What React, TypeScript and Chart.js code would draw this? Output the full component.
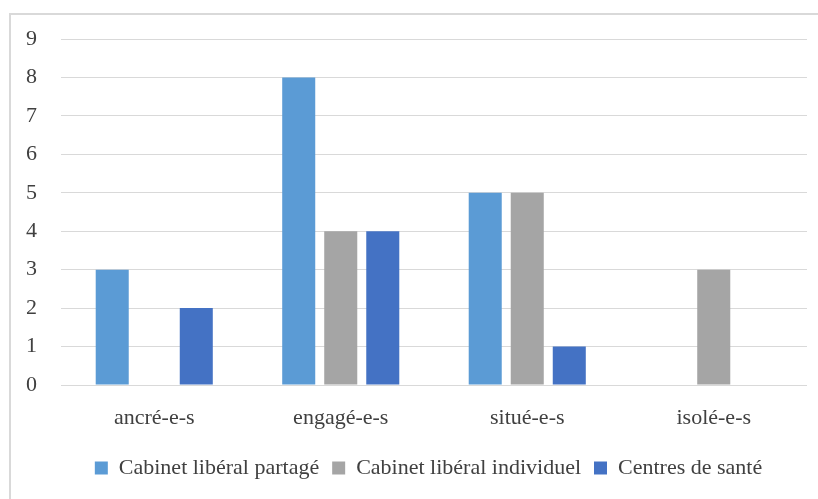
import React, { useEffect, useRef } from "react";
import { Chart, registerables } from "chart.js";

Chart.register(...registerables);

const categories = ["ancré-e-s", "engagé-e-s", "situé-e-s", "isolé-e-s"];
const seriesNames = ["Cabinet libéral partagé", "Cabinet libéral individuel", "Centres de santé"];
const cabinetPartage = [3, 8, 5, 0];
const cabinetIndividuel = [0, 4, 5, 3];
const centresSante = [2, 4, 1, 0];
const seriesColors = ["#5B9BD5", "#A5A5A5", "#4472C4"];
const yMin = 0;
const yMax = 9;

const FONT = "'Times New Roman', 'Liberation Serif', 'DejaVu Serif', serif";
const FONT_SIZE = 22;
const LEGEND_SHIFT = 25;

const legendShift = {
  id: "legendShift",
  afterLayout(chart: any) {
    if (chart.legend) {
      chart.legend.left += LEGEND_SHIFT;
      chart.legend.right += LEGEND_SHIFT;
    }
  },
};

export default function App() {
  const ref = useRef<HTMLCanvasElement | null>(null);

  useEffect(() => {
    if (!ref.current) return;
    const values = [cabinetPartage, cabinetIndividuel, centresSante];
    const chart = new Chart(ref.current, {
      type: "bar",
      data: {
        labels: categories,
        datasets: seriesNames.map((name, i) => ({
          label: name,
          data: values[i],
          backgroundColor: seriesColors[i],
          borderWidth: 0,
          categoryPercentage: 0.676,
          barPercentage: 0.786,
        })),
      },
      plugins: [legendShift],
      options: {
        responsive: false,
        animation: false,
        layout: { padding: { left: 0, right: 11, top: 39, bottom: 10 } },
        plugins: {
          tooltip: { enabled: false },
          legend: {
            position: "bottom",
            labels: {
              boxWidth: 13,
              boxHeight: 13,
              padding: 13,
              color: "#404040",
              font: { family: FONT, size: FONT_SIZE },
            },
          },
        },
        scales: {
          x: {
            grid: { display: false, drawTicks: false },
            border: { display: false },
            ticks: {
              color: "#404040",
              font: { family: FONT, size: FONT_SIZE },
              padding: 20,
            },
            afterFit: (scale: any) => {
              scale.height = 59;
            },
          },
          y: {
            min: yMin,
            max: yMax,
            grid: { color: "#D9D9D9", lineWidth: 1, drawTicks: false },
            border: { display: false },
            ticks: {
              stepSize: 1,
              color: "#404040",
              font: { family: FONT, size: FONT_SIZE },
              padding: 24,
            },
            afterFit: (scale: any) => {
              scale.width = 61;
            },
          },
        },
      },
    });
    return () => chart.destroy();
  }, []);

  return (
    <div>
      <div
        style={{
          position: "fixed",
          left: 9,
          top: 13,
          width: 900,
          height: 600,
          border: "2px solid #D9D9D9",
          boxSizing: "border-box",
        }}
      />
      <div style={{ position: "fixed", left: 0, top: 0, width: 818, height: 499 }}>
        <canvas ref={ref} width={818} height={499} />
      </div>
    </div>
  );
}
